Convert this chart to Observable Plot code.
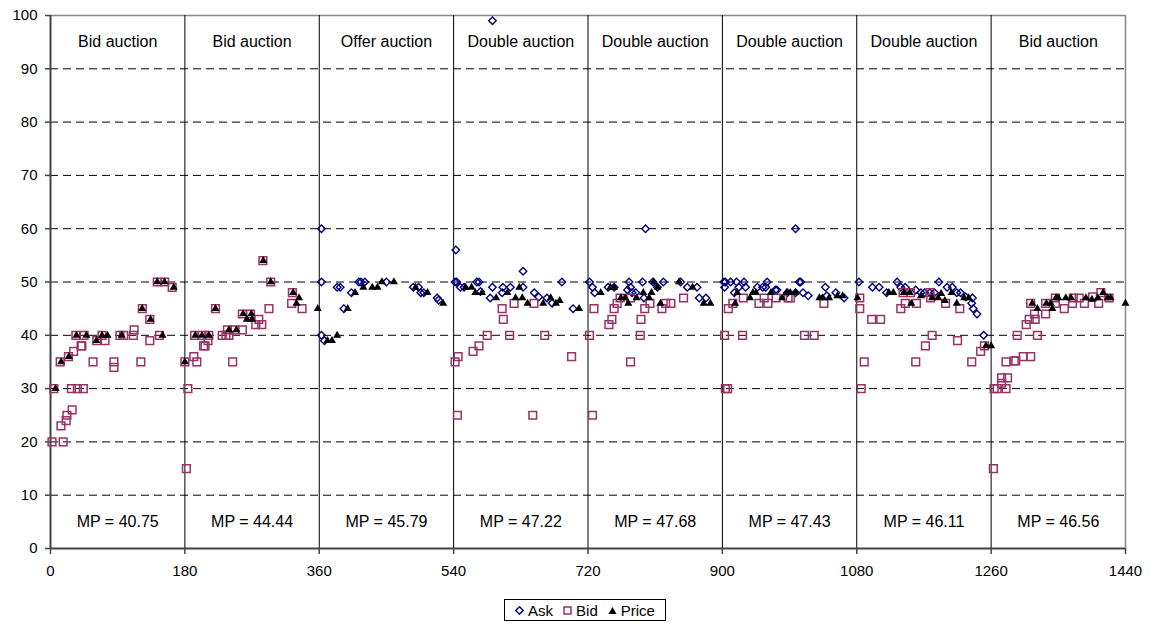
<!DOCTYPE html>
<html>
<head>
<meta charset="utf-8">
<script src="https://cdn.jsdelivr.net/npm/d3@7"></script>
<script src="https://cdn.jsdelivr.net/npm/@observablehq/plot@0.6"></script>
<style>
  body { margin: 0; background: #fff; font-family: "Liberation Sans", Arial, sans-serif; }
  #wrap { position: relative; width: 1156px; height: 625px; }
  #legend { position: absolute; left: 504px; top: 599px; width: 160px; height: 20px;
            border: 1px solid #000; display: flex; align-items: center; justify-content: center;
            gap: 0; font-size: 15px; color: #000; background: #fff; }
  #legend .item { display: flex; align-items: center; margin: 0 5px; }
  #legend svg { margin-right: 4px; }
</style>
</head>
<body>
<div id="wrap"><div id="chart"></div>
<div id="legend">
  <span class="item"><svg width="9" height="9"><path d="M4.5,0.8L8.2,4.5L4.5,8.2L0.8,4.5Z" fill="none" stroke="#000080" stroke-width="1.4"/></svg>Ask</span>
  <span class="item"><svg width="9" height="9"><rect x="1" y="1" width="7" height="7" fill="none" stroke="#993366" stroke-width="1.5"/></svg>Bid</span>
  <span class="item"><svg width="9" height="9"><path d="M4.5,1L8.5,8L0.5,8Z" fill="#000"/></svg>Price</span>
</div>
</div>
<script>
const segmentLabels = ["Bid auction","Bid auction","Offer auction","Double auction","Double auction","Double auction","Double auction","Bid auction"];
const mpLabels = ["MP = 40.75","MP = 44.44","MP = 45.79","MP = 47.22","MP = 47.68","MP = 47.43","MP = 46.11","MP = 46.56"];
const segmentCenters = [90,270,450,630,810,990,1170,1350];
const separators = [180,360,540,720,900,1080,1260];
const xTicks = [0,180,360,540,720,900,1080,1260,1440];
const yTicks = [0,10,20,30,40,50,60,70,80,90,100];
const gridY = [10,20,30,40,50,60,70,80,90];

const ask = [
  [363,60],[363,50],[363,40],[367,39],[384,49],[388,49],[393,45],[403,48],[413,50],[416,50],[421,50],[450,50],[486,49],[493,49],[496,48],[500,48],[518,47],[520,46.6],
  [543,56],[542,50],[544,50],[549,49],[554,49],[571,50],[574,50],[576,48.2],[589,47],[592,49],[592,99],[605,48],[606,49],[616,49],[633,52],[633,49],[648,48],[654,47.2],[665,47],[672,46],[685,50],[700,45],
  [722,50],[726,49],[729,48],[747,49],[755,49],[773,48.5],[775,50],[777,49],[779,48],[784,48],[793,50],[795,47],[797,60],[807,50],[813,49],[821,50],[844,50],[853,49],[866,49],[869,47],[878,47],
  [902,50],[903,49],[904,50],[911,50],[916,48],[919,50],[922,49],[929,50],[931,49],[947,49],[954,49],[958,49],[960,50],[971,48.5],[973,48.5],[987,48],[998,48],[998,60],[1003,50],[1005,50],[1008,48],[1015,47.4],[1038,49],[1040,47.4],[1052,48],[1063,47],
  [1083,50],[1101,49],[1110,49],[1120,48],[1134,50],[1139,49],[1145,49],[1159,48.5],[1166,48],[1171,48],[1178,48],[1184,48],[1190,50],[1201,49],[1208,49],[1214,48],[1219,48],[1226,47.2],[1235,47],[1234,46],[1236,45],[1241,44],[1250,40]
];

const bid = [
  [2,20],[17,20],[14,23],[21,24],[22,25],[29,26],[4.5,30],[28,30],[36,30],[44,30],[13,35],[24,36],[31,37],[41,38],[42,38],[34,40],[45,40],[57,35],[62,39],[69,40],[73,39],[85,35],[85,34],[93,40],[98,40],[111,40],[112,41],[121,35],[123,45],[133,39],[133,43],[146,40],[143,50],[153,50],[163,49],
  [180,35],[182,15],[184,30],[192,36],[196,35],[205,38],[207,38],[211,39],[193,40],[203,40],[212,40],[221,45],[230,40],[235,40],[239,40],[244,35],[237,41],[247,41],[257,41],[257,44],[268,44],[275,42],[283,42],[279,43],[284.5,54],[295,50],[292.6,45],[324,48],[323,46],[337,45],
  [542,35],[546,36],[545,25],[566,37],[574,38],[585,40],[605,45],[606.5,43],[615,40],[621,46],[646,25],[647.6,46],[662,40],[698,36],
  [722,40],[726,25],[728,45],[748,42],[752,43],[755,45],[759,46],[763,47],[777,47],[777,35],[790,40],[791,43],[796,45],[803,46],[819,45],[824,46],[831,46],[848,47],
  [903,40],[904,30],[907,30],[908,45],[914,46],[927,40],[928,47],[949,46],[956,47],[961,46],[972,47],[988,47],[991,47],[1010,40],[1023,40],[1036,46],
  [1084,47],[1084,45],[1086,30],[1090,35],[1100,43],[1112,43],[1139,45],[1142,48],[1145,46],[1152,48],[1159,35],[1160,46],[1172,38],[1178,48],[1179,47],[1181,40],[1199,46],[1215,39],[1218,45],[1234,35],[1246,37],[1251,38],
  [1263,15],[1264,30],[1268,30],[1280,30],[1274,31],[1274,32],[1282,32],[1280,35],[1291,35.2],[1293,35.2],[1303,36],[1313,36],[1295,40],[1322,40],[1307,42],[1311,43],[1319,43],[1318,44],[1313,46],[1333,44],[1333,46],[1346,46],[1346,47],[1358,45],[1369,46],[1370,47],[1378,47],[1385,46],[1396,47.2],[1404,46],[1407,48],[1418,47]
];

const price = [
  [6.7,30],[14.3,35],[24.6,36],[34.8,40],[48,40],[61.5,39],[69,40],[76.4,40],[95.4,40],[122.8,45],[134,43],[143,50],[152.7,50],[165,49],[150,40],
  [180,35],[194,40],[203,40],[212,40],[221,45],[239,41],[249,41],[258,44],[269,44],[263,43],[270,43],[285,54],[295,50],[325,48],[333,47],[329.5,46],[358,45],
  [371,39],[377,39],[384,40],[398,45],[408,48],[419,49],[431,49],[438,49],[444,50],[460,50],[489,49],[505,48],[526,46],
  [556,49],[564,49],[569,48],[578,48],[597,47],[612,48],[623,47],[628,49],[632,47],[639,46],[660,46],[670,47],[677,46],[682,46.5],[708,45],
  [737,48],[750,49],[755,49],[764,47],[770,47],[774,46],[785,47],[794,48],[802,47],[805,48],[808,50],[813,49],[817,46],[842,50],[860,49],[875,46],[884,46],
  [917,46],[920,48],[937,47],[941,48],[945,48],[965,48],[980,47],[986,48],[991,48],[998,48],[1030,47],[1034,47],[1043,47],[1054,47.4],[1061,47.4],[1081,47],
  [1123,48],[1129,48],[1143,48],[1151,48],[1153,46],[1166,47.4],[1181,47],[1189,47],[1193,47.8],[1198,46.5],[1207,48],[1214,46],[1224,47],[1230,47],[1253,38],[1260,38],
  [1315,46],[1322,45],[1334,46],[1340,46],[1342,45],[1347,47],[1350,47],[1360,47],[1367,47],[1387,47],[1395,46.75],[1403,47],[1410,48],[1416,47],[1420,47],[1440,46]
];

const labelsTop = segmentLabels.map((t, i) => ({x: segmentCenters[i], y: 95, t}));
const labelsMP = mpLabels.map((t, i) => ({x: segmentCenters[i], y: 5, t}));

const chart = Plot.plot({
  width: 1156,
  height: 590,
  marginLeft: 50,
  marginRight: 31,
  marginTop: 15,
  marginBottom: 42,
  style: {fontFamily: "'Liberation Sans', Arial, sans-serif", fontSize: "15px", color: "#000", background: "#fff"},
  x: {domain: [0, 1440]},
  y: {domain: [0, 100]},
  marks: [
    Plot.ruleY(gridY, {stroke: "#000", strokeWidth: 1, strokeDasharray: "8,5"}),
    Plot.ruleY([100], {stroke: "#888", strokeWidth: 1.5}),
    Plot.ruleX([1440], {stroke: "#888", strokeWidth: 1.5}),
    Plot.ruleX(separators, {stroke: "#000", strokeWidth: 1}),
    Plot.axisY({ticks: yTicks, tickSize: 5, tickPadding: 8, tickFormat: d => String(d), label: null, stroke: "#444", strokeWidth: 1.5}),
    Plot.axisX({ticks: xTicks, tickSize: 6, tickPadding: 11, tickFormat: d => String(d), label: null, stroke: "#444", strokeWidth: 1.5}),
    Plot.ruleX([0], {stroke: "#444", strokeWidth: 2}),
    Plot.ruleY([0], {stroke: "#444", strokeWidth: 2}),
    Plot.text(labelsTop, {x: "x", y: "y", text: "t", fontSize: 16, fill: "#000"}),
    Plot.text(labelsMP, {x: "x", y: "y", text: "t", fontSize: 16, fill: "#000"}),
    Plot.dot(ask, {x: d => d[0], y: d => d[1], symbol: "diamond2", r: 3.4, stroke: "#000080", strokeWidth: 1.4, fill: "none"}),
    Plot.dot(bid, {x: d => d[0], y: d => d[1], symbol: "square2", r: 4.9, stroke: "#993366", strokeWidth: 1.5, fill: "none"}),
    Plot.dot(price, {x: d => d[0], y: d => d[1], symbol: "triangle", r: 3.0, fill: "#000", stroke: "none"})
  ]
});
document.getElementById("chart").appendChild(chart);
</script>
</body>
</html>
